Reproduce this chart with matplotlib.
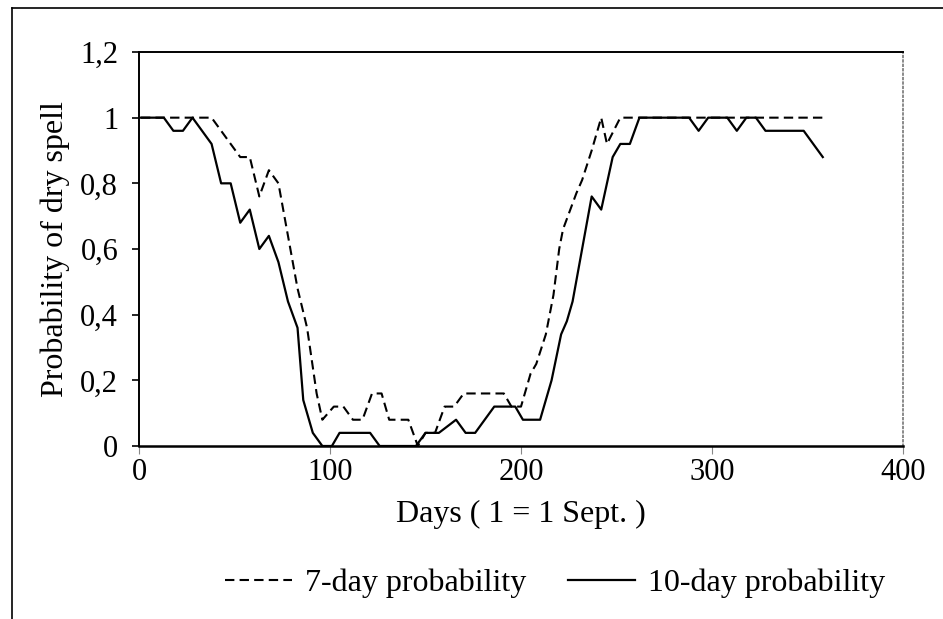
import numpy as np
import matplotlib
matplotlib.use("Agg")
import matplotlib.pyplot as plt
from matplotlib.lines import Line2D

# 7-day probability (dashed), vertices
days_7 = [1, 38, 43, 48, 53, 58, 63, 68, 73, 78, 83, 88, 93, 96, 102, 107,
          112, 117, 122, 127, 131, 141, 146, 150, 155, 160, 165, 170, 191,
          195, 200, 205, 208, 213, 217, 220, 222, 229, 232, 237, 242, 245,
          252, 358]
prob_7 = [1.0, 1.0, 0.96, 0.92, 0.88, 0.88, 0.76, 0.84, 0.80, 0.64, 0.48,
          0.36, 0.16, 0.08, 0.12, 0.12, 0.08, 0.08, 0.16, 0.16, 0.08, 0.08,
          0.0, 0.04, 0.04, 0.12, 0.12, 0.16, 0.16, 0.12, 0.12, 0.22, 0.25,
          0.34, 0.46, 0.60, 0.66, 0.77, 0.81, 0.90, 1.0, 0.92, 1.0, 1.0]

# 10-day probability (solid)
days_10 = [1, 13, 18, 23, 28, 33, 38, 43, 48, 53, 58, 63, 68, 73, 78, 83,
           86, 91, 96, 101, 105, 121, 126, 145, 150, 157, 166, 171, 176,
           186, 197, 201, 210, 216, 221, 224, 227, 237, 242, 248, 252, 257,
           262, 288, 293, 298, 308, 313, 318, 323, 328, 348, 358]
prob_10 = [1.0, 1.0, 0.96, 0.96, 1.0, 0.96, 0.92, 0.80, 0.80, 0.68, 0.72,
           0.60, 0.64, 0.56, 0.44, 0.36, 0.14, 0.04, 0.0, 0.0, 0.04, 0.04,
           0.0, 0.0, 0.04, 0.04, 0.08, 0.04, 0.04, 0.12, 0.12, 0.08, 0.08,
           0.20, 0.34, 0.38, 0.44, 0.76, 0.72, 0.88, 0.92, 0.92, 1.0, 1.0,
           0.96, 1.0, 1.0, 0.96, 1.0, 1.0, 0.96, 0.96, 0.88]

xticks = [0, 100, 200, 300, 400]
yticks = [0, 0.2, 0.4, 0.6, 0.8, 1.0, 1.2]
ytick_labels = ["0", "0,2", "0,4", "0,6", "0,8", "1", "1,2"]

plt.rcParams['font.family'] = ['Liberation Serif', 'DejaVu Serif']

W, H = 943, 619
fig = plt.figure(figsize=(W / 100, H / 100), dpi=100)
ax = fig.add_axes([139 / W, (H - 446) / H, 764 / W, 394 / H])

ax.plot(days_7, prob_7, color='black', lw=1.5, dashes=(4.5, 2.5),
        label='7-day probability')
ax.plot(days_10, prob_10, color='black', lw=1.6, label='10-day probability')

ax.set_xlim(0, 400)
ax.set_ylim(0, 1.2)
ax.set_xticks(xticks)
ax.set_yticks(yticks)
ax.set_yticklabels(ytick_labels)
ax.tick_params(axis='y', direction='out', length=5, width=1.2, pad=10,
               labelsize=22)
ax.tick_params(axis='x', direction='out', length=6, width=0.8, pad=3,
               labelsize=22, color='#888888')

for s in ['left', 'bottom', 'top']:
    ax.spines[s].set_linewidth(1.4)
ax.spines['bottom'].set_linewidth(1.8)
ax.spines['right'].set_linestyle(':')
ax.spines['right'].set_color('#777777')
ax.spines['right'].set_linewidth(1.2)

ax.set_xlabel("Days ( 1 = 1 Sept. )", fontsize=23, labelpad=9)
ax.set_ylabel("Probability of dry spell", fontsize=23, labelpad=7)

fig.legend(loc='center', bbox_to_anchor=(555 / W, 1 - 583 / H), ncol=2,
           frameon=False, fontsize=23, handlelength=2.1, handletextpad=0.4,
           columnspacing=1.3)

# scanned page frame
fig.add_artist(Line2D([12 / W, 1], [1 - 8 / H] * 2, color='black', lw=1.2,
                      transform=fig.transFigure))
fig.add_artist(Line2D([12 / W] * 2, [0, 1 - 8 / H], color='black', lw=1.2,
                      transform=fig.transFigure))

fig.savefig("out.png", dpi=100)
